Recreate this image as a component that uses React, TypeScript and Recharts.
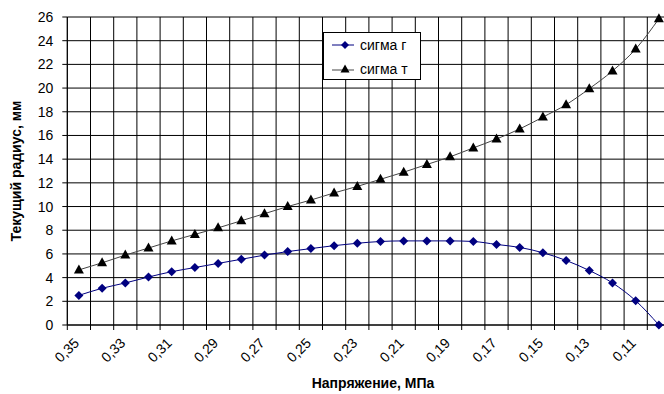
import { LineChart, Line, XAxis, YAxis, CartesianGrid } from 'recharts';

const categories = [
  '0,35', '0,34', '0,33', '0,32', '0,31', '0,30', '0,29', '0,28', '0,27', '0,26',
  '0,25', '0,24', '0,23', '0,22', '0,21', '0,20', '0,19', '0,18', '0,17', '0,16',
  '0,15', '0,14', '0,13', '0,12', '0,11', '0,10',
];
const sigmaR = [
  2.5, 3.1, 3.55, 4.05, 4.5, 4.85, 5.2, 5.55, 5.9, 6.2, 6.45, 6.7, 6.9,
  7.05, 7.1, 7.1, 7.1, 7.05, 6.8, 6.55, 6.1, 5.45, 4.6, 3.55, 2.05, 0,
];
const sigmaT = [
  4.65, 5.25, 5.9, 6.5, 7.1, 7.65, 8.2, 8.8, 9.4, 10.0, 10.55, 11.15, 11.7,
  12.3, 12.9, 13.55, 14.2, 14.95, 15.7, 16.55, 17.55, 18.6, 19.95, 21.45, 23.3, 25.85,
];
const yTicks = [0, 2, 4, 6, 8, 10, 12, 14, 16, 18, 20, 22, 24, 26];
const labelTicks = [0, 2, 4, 6, 8, 10, 12, 14, 16, 18, 20, 22, 24];
const gridTicks = categories.map((_, i) => i - 0.5).concat([categories.length - 0.5]);

const data = categories.map((name, i) => ({ i, name, r: sigmaR[i], t: sigmaT[i] }));

const font = 'Arial, "Liberation Sans", sans-serif';

const Diamond = (props: any) => {
  const { cx, cy, index } = props;
  if (cx == null || cy == null) return null;
  return (
    <path
      key={'d' + index}
      d={`M${cx},${cy - 4.5}L${cx + 4.5},${cy}L${cx},${cy + 4.5}L${cx - 4.5},${cy}Z`}
      fill='#000080'
    />
  );
};

const Triangle = (props: any) => {
  const { cx, cy, index } = props;
  if (cx == null || cy == null) return null;
  return (
    <path
      key={'t' + index}
      d={`M${cx},${cy - 5.5}L${cx + 5},${cy + 3.5}L${cx - 5},${cy + 3.5}Z`}
      fill='#000'
    />
  );
};

// rotated category labels, every second category
const RotatedTick = (props: any) => {
  const { x, payload } = props;
  const tx = x + 1;
  const ty = 344;
  return (
    <text
      x={tx}
      y={ty}
      textAnchor='end'
      transform={`rotate(-45, ${tx}, ${ty})`}
      fontSize={14}
      fontFamily={font}
      fill='#000'
    >
      {categories[payload.value]}
    </text>
  );
};

const App = () => (
  <div
    style={{
      position: 'fixed',
      left: 0,
      top: 0,
      width: 664,
      height: 394,
      overflow: 'hidden',
      background: '#fff',
      fontFamily: font,
    }}
  >
    <LineChart
      width={680}
      height={394}
      data={data}
      margin={{ top: 17, right: 9.5, bottom: 8, left: 0 }}
    >
      <CartesianGrid stroke='#000' vertical horizontal />
      <XAxis
        type='number'
        dataKey='i'
        domain={[-0.5, categories.length - 0.5]}
        ticks={gridTicks}
        interval={0}
        tick={{ fontSize: 0 }}
        tickFormatter={() => ''}
        tickSize={5}
        height={1}
        axisLine={{ stroke: '#000' }}
        tickLine={{ stroke: '#000' }}
      />
      <XAxis
        xAxisId='lab'
        type='number'
        dataKey='i'
        domain={[-0.5, categories.length - 0.5]}
        ticks={labelTicks}
        interval={0}
        tick={<RotatedTick />}
        tickLine={false}
        axisLine={false}
        height={60}
      />
      <YAxis
        width={67.3}
        domain={[0, 26]}
        ticks={yTicks}
        interval={0}
        tickSize={5}
        tickMargin={9}
        axisLine={{ stroke: '#000' }}
        tickLine={{ stroke: '#000' }}
        tick={{ fill: '#000', fontSize: 14, fontFamily: font }}
      />
      <Line
        type='monotone'
        dataKey='r'
        stroke='#000080'
        strokeWidth={1}
        dot={Diamond}
        activeDot={false}
        isAnimationActive={false}
      />
      <Line
        xAxisId='lab'
        type='monotone'
        dataKey='t'
        stroke='#444'
        strokeWidth={1}
        dot={Triangle}
        activeDot={false}
        isAnimationActive={false}
      />
    </LineChart>
    <div
      style={{
        position: 'absolute',
        left: 16,
        top: 171,
        transform: 'translate(-50%, -50%) rotate(-90deg)',
        whiteSpace: 'nowrap',
        fontWeight: 'bold',
        fontSize: 14,
      }}
    >
      Текущий радиус, мм
    </div>
    <div
      style={{
        position: 'absolute',
        left: 373,
        top: 383,
        transform: 'translate(-50%, -50%)',
        whiteSpace: 'nowrap',
        fontWeight: 'bold',
        fontSize: 14,
      }}
    >
      Напряжение, МПа
    </div>
    <div
      style={{
        position: 'absolute',
        left: 323,
        top: 32,
        width: 96,
        height: 46,
        border: '1px solid #000',
        background: '#fff',
        fontSize: 14,
        boxSizing: 'content-box',
      }}
    >
      <div style={{ position: 'absolute', left: 8, top: 4, display: 'flex', alignItems: 'center', height: 16 }}>
        <svg width={22} height={12}>
          <line x1={0} y1={6} x2={22} y2={6} stroke='#000080' strokeWidth={1} />
          <path d='M13,2L17,6L13,10L9,6Z' fill='#000080' />
        </svg>
        <span style={{ marginLeft: 6 }}>сигма г</span>
      </div>
      <div style={{ position: 'absolute', left: 8, top: 28, display: 'flex', alignItems: 'center', height: 16 }}>
        <svg width={22} height={12}>
          <line x1={0} y1={7} x2={22} y2={7} stroke='#444' strokeWidth={1} />
          <path d='M13,1.5L17.5,9.5L8.5,9.5Z' fill='#000' />
        </svg>
        <span style={{ marginLeft: 6 }}>сигма т</span>
      </div>
    </div>
  </div>
);

export default App;
